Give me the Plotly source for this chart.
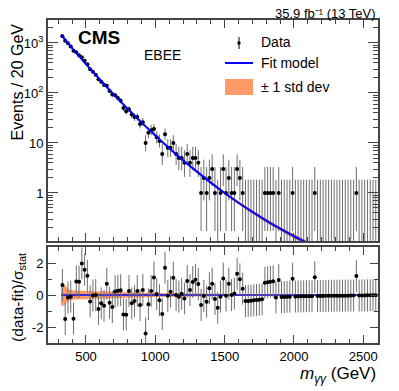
import plotly.graph_objects as go
from plotly.subplots import make_subplots

# 20 GeV bins, centres 330 ... 2590 GeV
MASS = list(range(330, 2600, 20))

# events per bin (EBEE)
EVENTS = [
    1372, 1108, 990, 852, 696, 656, 567, 516, 440, 376,
    299, 266, 231, 188, 167, 144, 140, 110, 93, 90,
    79, 70, 50, 43, 47, 37, 33, 33, 24, 26,
    10, 16, 18, 19, 13, 11, 6, 15, 8, 8,
    10, 6, 5, 5, 4, 6, 4, 5, 5, 4,
    1, 2, 1, 2, 3, 1, 0, 1, 3, 1,
    2, 1, 1, 3, 2, 1, 0, 0, 0, 0,
    0, 0, 0, 1, 1, 1, 1, 0, 1, 0,
    0, 0, 0, 1, 0, 0, 0, 0, 0, 0,
    0, 1, 0, 0, 0, 0, 0, 0, 0, 0,
    0, 0, 0, 0, 0, 0, 1, 0, 0, 0,
    0, 0, 0, 0,
]

# (data-fit)/sigma_stat per bin
PULL = [
    0.63, -1.5, -0.15, -0.1, -1.48, 0.85, 0.83, 1.98, 1.58, 1.2,
    -0.4, -0.03, 0.0, -0.88, -0.52, -0.67, 0.71, -0.48, -0.75, 0.22,
    0.27, 0.3, -1.21, -1.23, 0.25, -0.52, -0.38, 0.25, -0.62, 0.31,
    -2.4, -0.58, 0.25, 1.1, 0.06, -0.33, -1.19, 1.71, -0.04, 0.21,
    1.08, 0.0, -0.1, 0.08, -0.21, 0.88, 0.31, 0.81, 0.96, 0.69,
    -0.62, -0.06, -0.42, 0.42, 0.71, -0.25, -0.79, -0.1, 1.04, -0.04,
    0.71, 0.0, 0.1, 1.33, 0.98, 0.4, -0.38, -0.37, -0.35, -0.33,
    -0.31, -0.29, -0.27, 0.77, 0.8, 0.83, 0.86, -0.15, 0.94, -0.13,
    -0.12, -0.11, -0.1, 1.02, -0.09, -0.09, -0.08, -0.08, -0.07, -0.07,
    -0.07, 1.12, -0.06, -0.06, -0.06, -0.05, -0.05, -0.05, -0.05, -0.04,
    -0.04, -0.04, -0.04, -0.04, -0.03, -0.03, 1.19, -0.03, -0.03, -0.03,
    -0.02, -0.02, -0.02, -0.02,
]

# fit model
FIT_MASS = [320, 400, 500, 600, 700, 800, 900, 1000, 1100, 1200,
            1300, 1400, 1500, 1600, 1700, 1800, 1900, 2000, 2100]
FIT_EVENTS = [1469, 792, 379, 186.5, 94.0, 48.6, 25.8, 14.1, 7.87, 4.52,
              2.67, 1.61, 1.00, 0.638, 0.417, 0.280, 0.193, 0.136, 0.099]
FIT_REL_ERR = [0.05, 0.045, 0.04, 0.035, 0.035, 0.035, 0.04, 0.045, 0.05, 0.055,
               0.06, 0.065, 0.07, 0.075, 0.08, 0.085, 0.09, 0.095, 0.1]

# fit uncertainty in the pull panel
PULL_BAND_MASS = [320, 345, 365, 380, 420, 500, 600, 800, 1000, 1200, 1400, 1600, 2000, 2600]
PULL_BAND_HALF = [0.67, 0.64, 0.45, 0.32, 0.28, 0.25, 0.22, 0.17, 0.13, 0.1, 0.08, 0.06, 0.04, 0.03]

# 68% Poisson (Garwood) intervals for small counts
GARWOOD = {0: (0.0, 1.841), 1: (0.173, 3.300), 2: (0.708, 4.638), 3: (1.367, 5.918),
           4: (2.086, 7.163), 5: (2.840, 8.382), 6: (3.620, 9.584), 7: (4.419, 10.77),
           8: (5.232, 11.95), 9: (6.057, 13.11), 10: (6.891, 14.27)}


def poisson_interval(n):
    if n in GARWOOD:
        return GARWOOD[n]
    s = (n + 0.25) ** 0.5
    return n - s + 0.5, n + s + 0.5


FONT = "Liberation Sans, Arial, sans-serif"
ORANGE = "#FF9966"
BLUE = "#0000FF"
ERRCOL = "#6e6e6e"
FRAME = "#444444"

fig = make_subplots(rows=2, cols=1, shared_xaxes=True)

# top: fit band + line
band_hi = [f * (1 + r) for f, r in zip(FIT_EVENTS, FIT_REL_ERR)]
band_lo = [f * (1 - r) for f, r in zip(FIT_EVENTS, FIT_REL_ERR)]
fig.add_trace(go.Scatter(x=FIT_MASS, y=band_hi, mode="lines", line=dict(width=0, shape="spline"),
                         showlegend=False, hoverinfo="skip"), row=1, col=1)
fig.add_trace(go.Scatter(x=FIT_MASS, y=band_lo, mode="lines", line=dict(width=0, shape="spline"),
                         fill="tonexty", fillcolor=ORANGE, showlegend=False, hoverinfo="skip"),
              row=1, col=1)

# top: data
nz = [(m, n) for m, n in zip(MASS, EVENTS) if n > 0]
zz = [m for m, n in zip(MASS, EVENTS) if n == 0]
floor_y = 0.01
fig.add_trace(go.Scatter(
    x=[m for m, n in nz], y=[n for m, n in nz], mode="markers",
    marker=dict(color="black", size=4),
    error_y=dict(type="data", symmetric=False,
                 array=[poisson_interval(n)[1] - n for m, n in nz],
                 arrayminus=[n - poisson_interval(n)[0] for m, n in nz],
                 color=ERRCOL, thickness=1, width=0),
    showlegend=False), row=1, col=1)
fig.add_trace(go.Scatter(
    x=zz, y=[floor_y] * len(zz), mode="markers",
    marker=dict(color="rgba(0,0,0,0)", size=1),
    error_y=dict(type="constant", value=GARWOOD[0][1] - floor_y, valueminus=0, symmetric=False,
                 color=ERRCOL, thickness=1, width=0),
    showlegend=False), row=1, col=1)

fig.add_trace(go.Scatter(x=FIT_MASS, y=FIT_EVENTS, mode="lines",
                         line=dict(color=BLUE, width=2, shape="spline"), showlegend=False),
              row=1, col=1)

# bottom: pull band, zero line, pulls
fig.add_trace(go.Scatter(x=PULL_BAND_MASS, y=PULL_BAND_HALF, mode="lines", line=dict(width=0),
                         showlegend=False, hoverinfo="skip"), row=2, col=1)
fig.add_trace(go.Scatter(x=PULL_BAND_MASS, y=[-h for h in PULL_BAND_HALF], mode="lines",
                         line=dict(width=0), fill="tonexty", fillcolor=ORANGE,
                         showlegend=False, hoverinfo="skip"), row=2, col=1)
fig.add_trace(go.Scatter(x=[PULL_BAND_MASS[0], PULL_BAND_MASS[-1]], y=[0, 0], mode="lines",
                         line=dict(color=BLUE, width=1.5), showlegend=False), row=2, col=1)
fig.add_trace(go.Scatter(
    x=MASS, y=PULL, mode="markers", marker=dict(color="black", size=4),
    error_y=dict(type="constant", value=1, color=ERRCOL, thickness=1, width=0),
    showlegend=False), row=2, col=1)

axis_common = dict(showline=True, linecolor=FRAME, linewidth=2, mirror="allticks",
                   ticks="inside", tickcolor=FRAME, showgrid=False, zeroline=False,
                   automargin=False,
                   tickfont=dict(family=FONT, size=13, color="black"))

x_range = [226, 2606]
fig.update_xaxes(range=x_range, dtick=500, tick0=0, ticklen=8,
                 minor=dict(dtick=100, tick0=0, ticklen=4, ticks="inside", tickcolor=FRAME),
                 **axis_common)
fig.update_xaxes(showticklabels=False, row=1, col=1)

minor_log = [v * s for s in (0.1, 1, 10, 100) for v in range(2, 10)] + [2000, 3000]
fig.update_yaxes(type="log", range=[-0.96, 3.46], domain=[0.316, 1.0],
                 tickvals=[1, 10, 100, 1000], ticktext=["1", "10", "10<sup>2</sup>", "10<sup>3</sup>"],
                 ticklen=10,
                 minor=dict(tickvals=minor_log, ticklen=5, ticks="inside", tickcolor=FRAME),
                 row=1, col=1, **axis_common)
fig.update_yaxes(range=[-3, 3], domain=[0.0, 0.297],
                 tickvals=[-2, 0, 2], ticktext=["-2", "0", "2"], ticklen=8,
                 minor=dict(dtick=1, tick0=0, ticklen=4, ticks="inside", tickcolor=FRAME),
                 row=2, col=1, **axis_common)

# the page body sits 8 px in from the window edge, so the figure is 8 px smaller
PAGE_OFF = 8
W, H = 399 - PAGE_OFF, 391 - PAGE_OFF

# plot area in window pixels, and helpers to paper coordinates
L, R, T, B = 48, 378, 20, 343


def px(x):
    return (x - L) / (R - L)


def py(y):
    return (B - y) / (B - T)


annotations = [
    dict(text="<b>CMS</b>", x=px(76), y=py(38), xanchor="left", yanchor="middle",
         font=dict(size=19)),
    dict(text="EBEE", x=px(142), y=py(55), xanchor="left", yanchor="middle", font=dict(size=14)),
    dict(text="35.9 fb⁻¹ (13 TeV)", x=1.0, y=py(13.5), xanchor="right", yanchor="middle",
         font=dict(size=13)),
    dict(text="Data", x=px(259), y=py(42), xanchor="left", yanchor="middle", font=dict(size=14)),
    dict(text="Fit model", x=px(259), y=py(63), xanchor="left", yanchor="middle", font=dict(size=14)),
    dict(text="± 1 std dev", x=px(259), y=py(87), xanchor="left", yanchor="middle", font=dict(size=14)),
    dict(text="Events / 20 GeV", x=px(17), y=py(22), xanchor="center", yanchor="top", textangle=-90,
         font=dict(size=16)),
    dict(text="(data-fit)/σ<sub>stat</sub>", x=px(18), y=py(298), xanchor="center", yanchor="middle",
         textangle=-90, font=dict(size=15.5)),
    dict(text="<i>m</i><sub><i>γγ</i></sub> (GeV)", x=1.0, y=py(375), xanchor="right", yanchor="middle",
         font=dict(size=17)),
]
for a in annotations:
    a.update(xref="paper", yref="paper", showarrow=False)
    a["font"].update(family=FONT, color="black")

shapes = [
    # data glyph
    dict(type="line", x0=px(239), x1=px(239), y0=py(37), y1=py(49), line=dict(color="black", width=1)),
    dict(type="circle", x0=px(237.3), x1=px(240.7), y0=py(41.3), y1=py(44.7),
         fillcolor="black", line=dict(color="black", width=0)),
    # fit glyph
    dict(type="line", x0=px(225), x1=px(253), y0=py(63), y1=py(63), line=dict(color=BLUE, width=2)),
    # band glyph
    dict(type="rect", x0=px(225), x1=px(253), y0=py(79), y1=py(95), fillcolor=ORANGE,
         line=dict(width=0)),
]
for s in shapes:
    s.update(xref="paper", yref="paper")

fig.update_layout(
    width=W, height=H, autosize=False,
    margin=dict(l=L - PAGE_OFF, r=399 - R, t=T - PAGE_OFF, b=391 - B),
    paper_bgcolor="white", plot_bgcolor="white",
    font=dict(family=FONT, color="black"),
    annotations=annotations, shapes=shapes,
    showlegend=False,
)

fig.write_html("out.html")
